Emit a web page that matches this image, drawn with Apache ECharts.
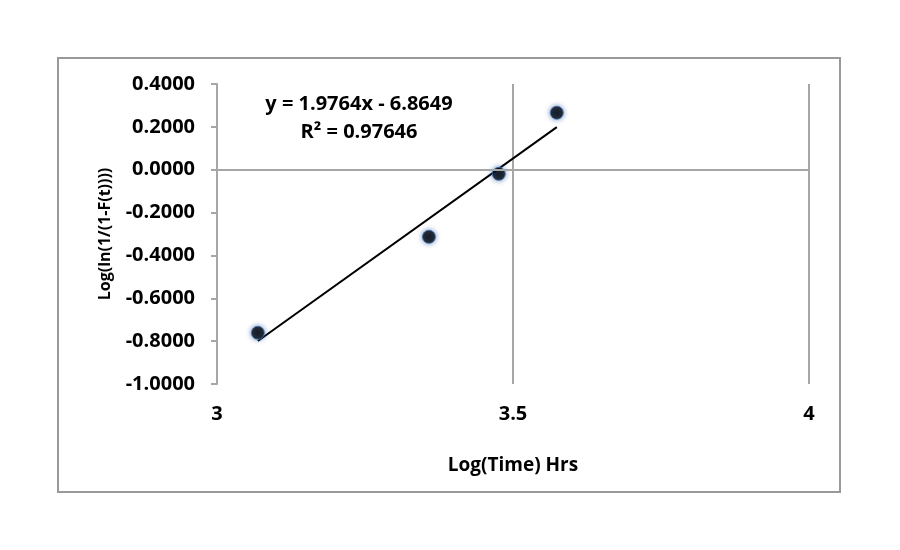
<!doctype html>
<html>
<head>
<meta charset="utf-8">
<title>Log Time plot</title>
<script src="https://cdn.jsdelivr.net/npm/echarts@6/dist/echarts.min.js"></script>
<style>
  html, body { margin: 0; padding: 0; background: #fff; }
  #main { width: 900px; height: 550px; }
</style>
</head>
<body>
<div id="main"></div>
<script>
// data
var logTime = [3.069, 3.358, 3.476, 3.574];
var logLn = [-0.761, -0.313, -0.019, 0.266];
var fitSlope = 1.9764, fitIntercept = -6.8649;
var eqText = ['y = 1.9764x - 6.8649', 'R² = 0.97646'];

var points = logTime.map(function (x, i) { return [x, logLn[i]]; });
var xMin = Math.min.apply(null, logTime), xMax = Math.max.apply(null, logTime);
var fitLine = [xMin, xMax].map(function (x) { return [x, fitSlope * x + fitIntercept]; });

var font = '"Open Sans", "Liberation Sans", sans-serif';
var gray = '#a6a6a6';

var chart = echarts.init(document.getElementById('main'));
chart.setOption({
  animation: false,
  backgroundColor: '#fff',
  grid: { left: 217, right: 91, top: 84, bottom: 166 },
  graphic: [
    { type: 'rect', shape: { x: 58, y: 58, width: 782, height: 434 },
      style: { fill: 'none', stroke: '#999', lineWidth: 2 }, z: -1 },
    { type: 'text', x: 359, y: 118,
      style: { text: eqText.join('\n'), font: 'bold 20px ' + font, fill: '#000',
               align: 'center', verticalAlign: 'middle', lineHeight: 28 } }
  ],
  xAxis: {
    type: 'value', min: 3, max: 4, interval: 0.5,
    name: 'Log(Time) Hrs', nameLocation: 'middle', nameGap: 72,
    nameTextStyle: { fontFamily: font, fontWeight: 'bold', fontSize: 19, color: '#000' },
    axisLine: { show: false },
    axisTick: { show: false },
    axisLabel: { fontFamily: font, fontWeight: 'bold', fontSize: 20, color: '#000', margin: 20 },
    splitLine: { show: true, lineStyle: { color: gray, width: 2 } }
  },
  yAxis: {
    type: 'value', min: -1, max: 0.4, interval: 0.2,
    name: 'Log(ln(1/(1-F(t))))', nameLocation: 'middle', nameGap: 104,
    nameTextStyle: { fontFamily: font, fontWeight: 'bold', fontSize: 16, color: '#000' },
    axisLine: { show: true, lineStyle: { color: gray, width: 2 } },
    axisTick: { show: true, inside: false, length: 6, lineStyle: { color: gray, width: 2 } },
    axisLabel: { fontFamily: font, fontWeight: 'bold', fontSize: 20, color: '#000', margin: 22,
                 formatter: function (v) { return v.toFixed(4); } },
    splitLine: { show: false }
  },
  series: [
    {
      type: 'line', data: fitLine, showSymbol: false, symbol: 'none',
      lineStyle: { color: '#000', width: 2 }, z: 3,
      markLine: {
        silent: true, symbol: 'none', label: { show: false },
        lineStyle: { color: gray, width: 2, type: 'solid' },
        data: [{ yAxis: 0 }]
      }
    },
    {
      type: 'scatter', data: points, symbol: 'circle', symbolSize: 13, z: 4,
      itemStyle: { color: '#000', borderColor: '#3d6fa8', borderWidth: 1,
                   shadowBlur: 5, shadowColor: 'rgba(40,90,170,0.8)' }
    }
  ]
});
</script>
</body>
</html>
